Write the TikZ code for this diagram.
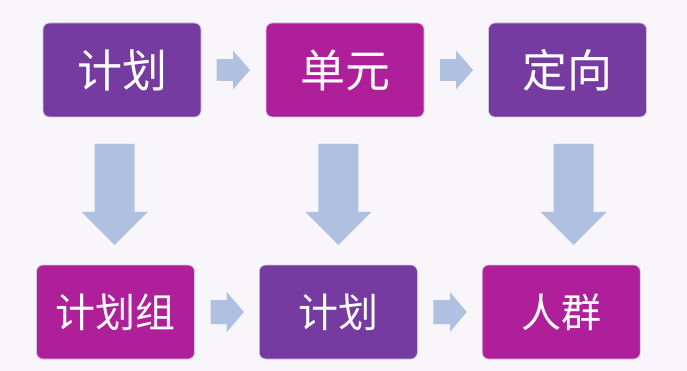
\documentclass[tikz,border=0pt]{standalone}
\usepackage{fontspec}
\newfontfamily\cjk{Noto Sans CJK SC}
\definecolor{bgc}{RGB}{248,246,250}
\definecolor{purp}{RGB}{117,59,161}
\definecolor{mag}{RGB}{176,31,154}
\definecolor{arr}{RGB}{175,192,225}
\tikzset{
  box/.style={rectangle, rounded corners=6.5pt, draw=white!70!purp, line width=0.6pt,
    minimum width=158pt, minimum height=94pt, inner sep=0pt, text=white},
  toptext/.style={font=\cjk\fontsize{45}{50}\selectfont},
  bottext/.style={font=\cjk\fontsize{40}{46}\selectfont},
  arrowfill/.style={fill=arr},
}
\newcommand{\harr}[6]{% x0 xh x1 yc shafthalf headhalf
  \fill[arrowfill] (#1,#4-#5) -- (#2,#4-#5) -- (#2,#4-#6) -- (#3,#4) -- (#2,#4+#6) -- (#2,#4+#5) -- (#1,#4+#5) -- cycle;}
\newcommand{\varr}[1]{% xc
  \fill[arrowfill] (#1-20,144) -- (#1+20,144) -- (#1+20,212) -- (#1+33,212) -- (#1,245) -- (#1-33,212) -- (#1-20,212) -- cycle;}
\begin{document}
\begin{tikzpicture}[x=1pt,y=-1pt]
\fill[bgc] (0,0) rectangle (687,371);
\useasboundingbox (0,0) rectangle (687,371);
\node[box, fill=purp, toptext] (a1) at (122,70) {计划};
\node[box, fill=mag, toptext] (a2) at (345,70) {单元};
\node[box, fill=purp, toptext] (a3) at (567.5,70) {定向};
\node[box, fill=mag, bottext] (b1) at (115.5,312) {计划组};
\node[box, fill=purp, bottext] (b2) at (338.3,312) {计划};
\node[box, fill=mag, bottext] (b3) at (561.2,312) {人群};
\harr{216.7}{233}{250}{70}{10.8}{19.5}
\harr{440}{456}{473}{70}{10.8}{19.5}
\harr{210.7}{226.7}{244}{312}{12}{20}
\harr{433.3}{450}{466.7}{312}{12}{20}
\varr{114.7}
\varr{338.3}
\varr{573.7}
\end{tikzpicture}
\end{document}
